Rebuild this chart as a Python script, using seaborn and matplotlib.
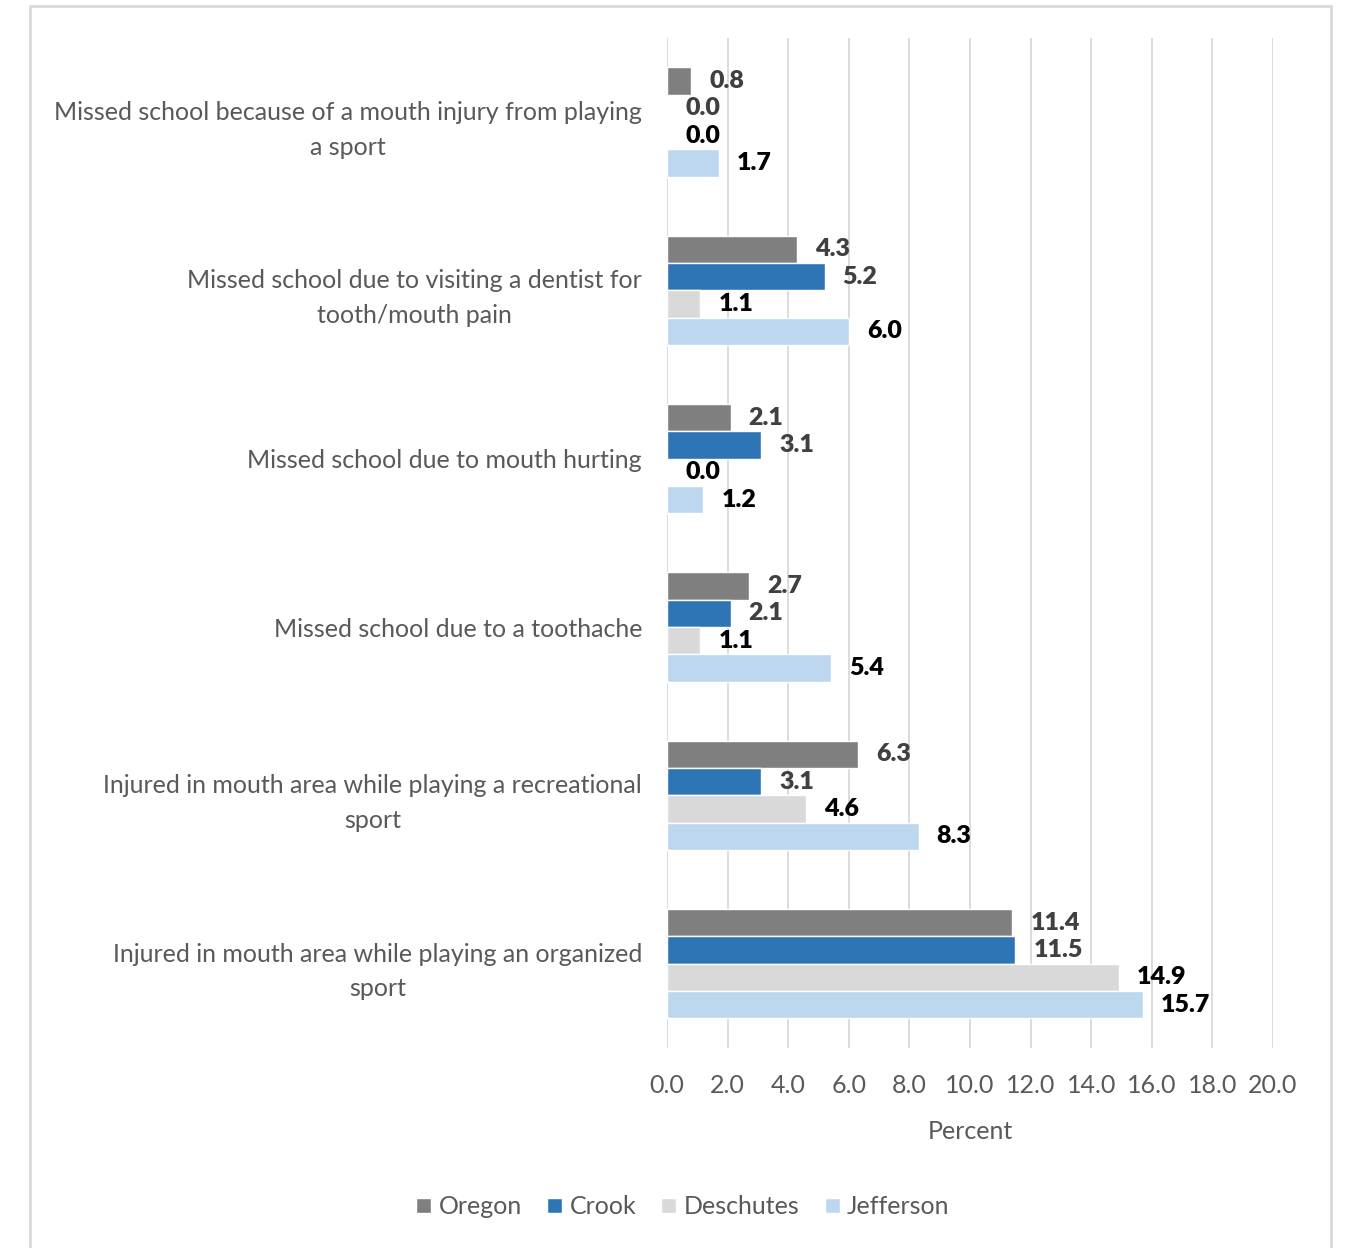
import matplotlib
matplotlib.use("Agg")
import matplotlib.pyplot as plt
import pandas as pd
import seaborn as sns
from matplotlib.patches import Rectangle

# -----------------------------
# Data
# -----------------------------
items = [
    "Missed school because of a mouth injury from playing\na sport",
    "Missed school due to visiting a dentist for\ntooth/mouth pain",
    "Missed school due to mouth hurting",
    "Missed school due to a toothache",
    "Injured in mouth area while playing a recreational\nsport",
    "Injured in mouth area while playing an organized\nsport",
]
regions = ["Oregon", "Crook", "Deschutes", "Jefferson"]
oregon = [0.8, 4.3, 2.1, 2.7, 6.3, 11.4]
crook = [0.0, 5.2, 3.1, 2.1, 3.1, 11.5]
deschutes = [0.0, 1.1, 0.0, 1.1, 4.6, 14.9]
jefferson = [1.7, 6.0, 1.2, 5.4, 8.3, 15.7]
x_ticks = [0, 2, 4, 6, 8, 10, 12, 14, 16, 18, 20]

colors = ["#7f7f7f", "#2e75b6", "#d9d9d9", "#bdd7ee"]
label_colors = ["#404040", "#404040", "#000000", "#000000"]

rows = []
for region, vals in zip(regions, [oregon, crook, deschutes, jefferson]):
    for item, v in zip(items, vals):
        rows.append({"Item": item, "Region": region, "Percent": v})
df = pd.DataFrame(rows)

# -----------------------------
# Plot
# -----------------------------
sns.set_style("white")
plt.rcParams["font.family"] = ["Lato", "DejaVu Sans"]

fig = plt.figure(figsize=(13.47, 12.48), dpi=100)
ax = fig.add_axes([0.4952, 0.1603, 0.4499, 0.8093])

sns.barplot(data=df, y="Item", x="Percent", hue="Region", orient="h",
            palette=colors, width=0.65, order=items, hue_order=regions,
            errorbar=None, ax=ax, saturation=1)

for cont, lc in zip(ax.containers, label_colors):
    ax.bar_label(cont, fmt="%.1f", padding=13, fontsize=18,
                 fontweight="heavy", color=lc)

ax.set_xlim(0, 20)
ax.set_xticks(x_ticks)
ax.set_xticklabels([f"{t:.1f}" for t in x_ticks], fontsize=18, color="#595959")
ax.tick_params(axis="x", length=0, pad=19)
ax.tick_params(axis="y", length=0, pad=18, labelsize=18, labelcolor="#595959")
for lab in ax.get_yticklabels():
    lab.set_multialignment("center")
    lab.set_linespacing(1.6)

ax.set_ylabel("")
ax.set_xlabel("Percent", fontsize=18, color="#595959", labelpad=16)
ax.grid(axis="x", color="#d9d9d9", linewidth=1.3)
ax.set_axisbelow(True)
for s in ax.spines.values():
    s.set_visible(False)

ax.legend(loc="center", bbox_to_anchor=(0.507, 0.033), bbox_transform=fig.transFigure,
          ncol=4, frameon=False, fontsize=18, labelcolor="#595959",
          handlelength=0.6, handleheight=0.6, handletextpad=0.3, columnspacing=1.0)

# outer frame
fig.patches.append(Rectangle((30 / 1347, -0.01), 1301 / 1347, 1 - 6 / 1248 + 0.01,
                             transform=fig.transFigure, fill=False,
                             edgecolor="#d9d9d9", linewidth=2))

plt.savefig("out.png", dpi=100)
plt.close()
